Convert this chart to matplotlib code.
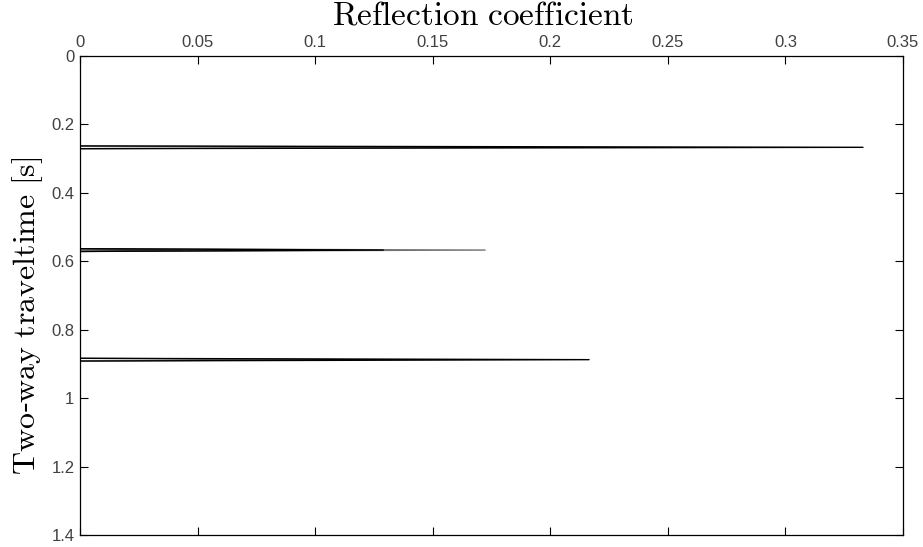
import matplotlib.pyplot as plt
import numpy as np

plt.rcParams['mathtext.fontset'] = 'cm'
plt.rcParams['font.family'] = ['Liberation Sans', 'DejaVu Sans']

# sampling of the reflectivity series
dt = 0.004
t_max = 1.4

# reflector times [s] and reflection coefficients for each trace
trace_times = [
    [0.268, 0.568, 0.888],
    [0.568],
    [0.568],
    [0.268, 0.568, 0.888],
]
trace_coeffs = [
    [0.1667, 0.1723, 0.108],
    [0.0859],
    [0.043],
    [0.333, 0.129, 0.2165],
]
trace_colors = ['0.45', '0.45', '0.3', 'black']

t = np.arange(0, t_max + dt / 2, dt)

fig = plt.figure(figsize=(9.23, 5.47), dpi=100)
ax = fig.add_axes([0.0867, 0.0219, 0.8916, 0.8766])

for times, coeffs, col in zip(trace_times, trace_coeffs, trace_colors):
    r = np.zeros_like(t)
    for tt, rc in zip(times, coeffs):
        r[int(round(tt / dt))] = rc
    ax.plot(r, t, color=col, lw=1.0)

ax.set_xlim(0, 0.35)
ax.set_ylim(1.4, 0)
ax.set_xticks(np.arange(0, 0.351, 0.05))
ax.set_xticklabels(['0', '0.05', '0.1', '0.15', '0.2', '0.25', '0.3', '0.35'])
ax.set_yticks(np.arange(0, 1.41, 0.2))
ax.set_yticklabels(['0', '0.2', '0.4', '0.6', '0.8', '1', '1.2', '1.4'])

ax.xaxis.set_label_position('top')
ax.tick_params(axis='both', direction='in', length=6, width=0.8,
               labelsize=12, colors='black', labelcolor='0.25',
               top=True, bottom=True, left=True, right=True,
               labeltop=True, labelbottom=False, pad=4)
for sp in ax.spines.values():
    sp.set_linewidth(0.9)

ax.set_xlabel(r'$\mathrm{Reflection\ coefficient}$', fontsize=24)
ax.set_ylabel(r'$\mathrm{Two}$-$\mathrm{way\ traveltime\ [s]}$', fontsize=23)
ax.xaxis.set_label_coords(0.489, 1.064)
ax.yaxis.set_label_coords(-0.043, 0.458)

fig.savefig('out.png', dpi=100)
